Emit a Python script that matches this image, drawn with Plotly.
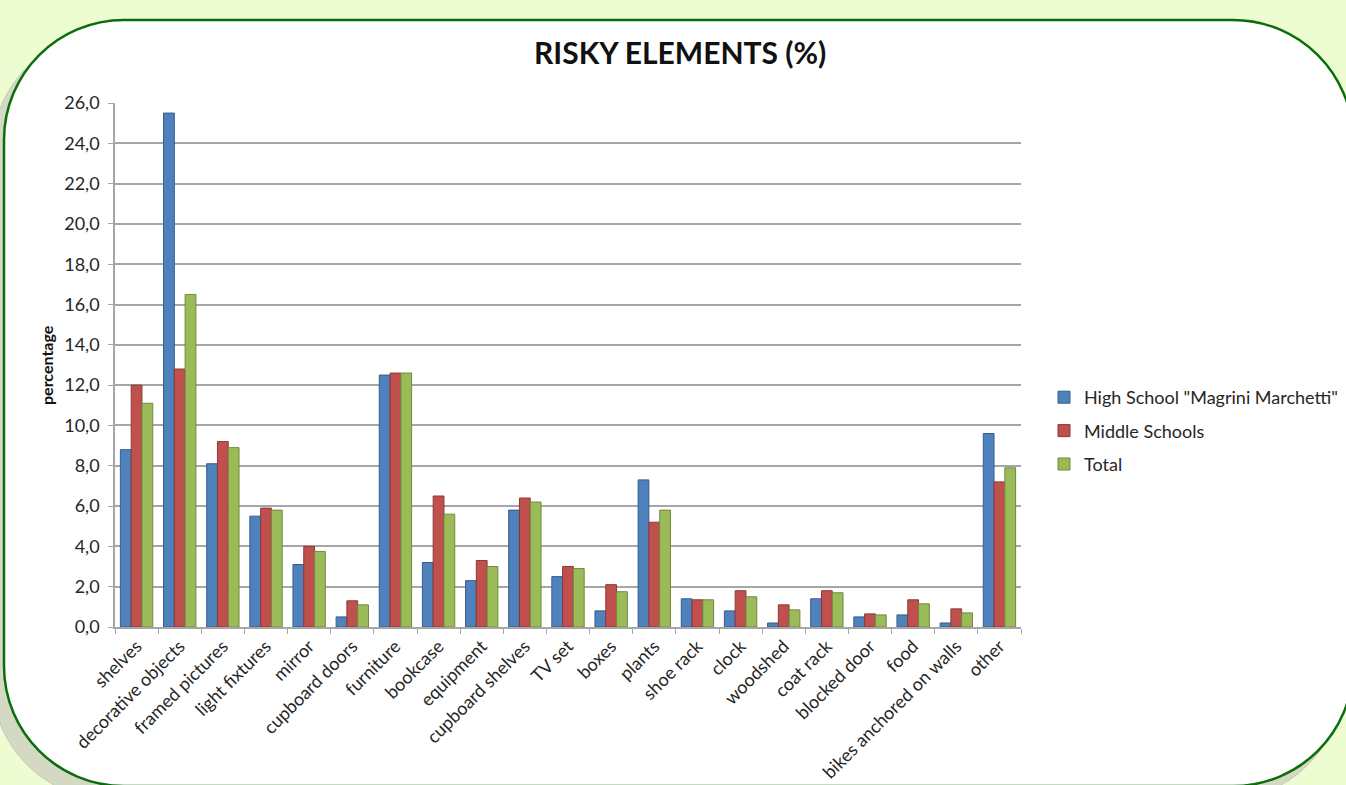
import plotly.graph_objects as go

categories = ["shelves", "decorative objects", "framed pictures", "light fixtures", "mirror",
              "cupboard doors", "furniture", "bookcase", "equipment", "cupboard shelves",
              "TV set", "boxes", "plants", "shoe rack", "clock", "woodshed", "coat rack",
              "blocked door", "food", "bikes anchored on walls", "other"]
high_school = [8.8, 25.5, 8.1, 5.5, 3.1, 0.5, 12.5, 3.2, 2.3, 5.8, 2.5, 0.8, 7.3, 1.4,
               0.8, 0.2, 1.4, 0.5, 0.6, 0.2, 9.6]
middle_schools = [12.0, 12.8, 9.2, 5.9, 4.0, 1.3, 12.6, 6.5, 3.3, 6.4, 3.0, 2.1, 5.2, 1.35,
                  1.8, 1.1, 1.8, 0.65, 1.35, 0.9, 7.2]
total = [11.1, 16.5, 8.9, 5.8, 3.75, 1.1, 12.6, 5.6, 3.0, 6.2, 2.9, 1.75, 5.8, 1.35,
         1.5, 0.85, 1.7, 0.6, 1.15, 0.7, 7.9]
series_names = ['High School "Magrini Marchetti"', "Middle Schools", "Total"]
y_ticks = [0, 2, 4, 6, 8, 10, 12, 14, 16, 18, 20, 22, 24, 26]

W, H = 1346, 785
L, R, T, B = 115, 325, 103, 158
PW, PH = W - L - R, H - T - B


def px(x):
    return (x - L) / PW


def py(y):
    return (H - B - y) / PH


def rounded_rect_path(x0, y0, x1, y1, r):
    k = 0.5523 * r
    def P(x, y):
        return f"{px(x):.5f},{py(y):.5f}"
    s = f"M {P(x0 + r, y0)} L {P(x1 - r, y0)} "
    s += f"C {P(x1 - r + k, y0)} {P(x1, y0 + r - k)} {P(x1, y0 + r)} "
    s += f"L {P(x1, y1 - r)} "
    s += f"C {P(x1, y1 - r + k)} {P(x1 - r + k, y1)} {P(x1 - r, y1)} "
    s += f"L {P(x0 + r, y1)} "
    s += f"C {P(x0 + r - k, y1)} {P(x0, y1 - r + k)} {P(x0, y1 - r)} "
    s += f"L {P(x0, y0 + r)} "
    s += f"C {P(x0, y0 + r - k)} {P(x0 + r - k, y0)} {P(x0 + r, y0)} Z"
    return s


colors = ["#4F81BD", "#C0504D", "#9BBB59"]
edges = ["#385D8A", "#8C3836", "#71893F"]
values = [high_school, middle_schools, total]

fig = go.Figure()
for i in range(3):
    fig.add_trace(go.Bar(
        x=categories, y=values[i], name=series_names[i],
        marker=dict(color=colors[i], line=dict(color=edges[i], width=1)),
        legendgroup=str(i),
    ))

FONT = "Lato"
TXT = "#262626"
shapes = [
    dict(type="path", xref="paper", yref="paper", layer="below",
         path=rounded_rect_path(-8, 32, 1343, 800, 120),
         fillcolor="#D3D9C3", line=dict(color="#C4C8BC", width=1)),
    dict(type="path", xref="paper", yref="paper", layer="below",
         path=rounded_rect_path(4, 20, 1353, 786, 120),
         fillcolor="#FFFFFF", line=dict(color="#0B6E0B", width=2.5)),
]

fig.update_layout(
    width=W, height=H,
    margin=dict(l=L, r=R, t=T, b=B, autoexpand=False),
    paper_bgcolor="#EEFCD2",
    plot_bgcolor="rgba(0,0,0,0)",
    bargap=0.25, bargroupgap=0,
    separators=", ",
    font=dict(family=FONT, size=18, color=TXT),
    shapes=shapes,
    showlegend=True,
    legend=dict(x=px(1044), y=py(431), xanchor="left", yanchor="middle",
                font=dict(family=FONT, size=18, color=TXT),
                tracegroupgap=7, bgcolor="rgba(0,0,0,0)"),
    annotations=[
        dict(text="<b>RISKY ELEMENTS (%)</b>", x=px(680), y=py(52), xref="paper", yref="paper",
             showarrow=False, font=dict(family=FONT, size=30, color="#111111"),
             xanchor="center", yanchor="middle"),
        dict(text="<b>percentage</b>", x=px(46), y=py(365), xref="paper", yref="paper",
             showarrow=False, textangle=-90, font=dict(family=FONT, size=16, color="#111111"),
             xanchor="center", yanchor="middle"),
    ],
)
fig.update_yaxes(range=[0, 26], tickvals=y_ticks, tickformat=".1f",
                 showgrid=True, gridcolor="#A6A6A6", gridwidth=1.5,
                 showline=True, linecolor="#A6A6A6", linewidth=1.5,
                 ticks="outside", ticklen=5, tickcolor="#A6A6A6", ticklabelstandoff=5,
                 tickfont=dict(family=FONT, size=18, color=TXT), zeroline=False)
fig.update_xaxes(tickangle=-45, showline=True, linecolor="#A6A6A6", linewidth=1.5,
                 ticks="outside", ticklen=5, tickcolor="#A6A6A6", tickson="boundaries",
                 tickfont=dict(family=FONT, size=18, color=TXT))

fig.write_html("out.html")
